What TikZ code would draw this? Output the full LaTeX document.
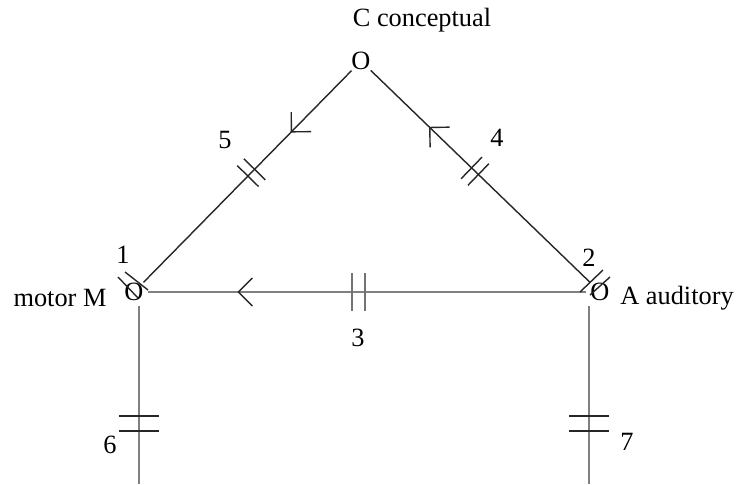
\documentclass[tikz,border=0pt]{standalone}
\usepackage{fontspec}
\setmainfont{Liberation Serif}
\usetikzlibrary{positioning,calc,decorations.markings}
\tikzset{
  vtx/.style={circle,inner sep=0pt,minimum size=15pt,font=\fontsize{15}{18}\selectfont},
  lbl/.style={inner sep=0pt,font=\fontsize{15}{18}\selectfont},
  dline/.style={line width=0.8pt,black!85},
  gline/.style={line width=1.5pt,black!50},
  ghatch/.style={line width=1pt,black!55},
  % ---- marks on the pathways ----
  hatch/.style n args={4}{postaction={decorate,decoration={markings,
      mark=at position #1 with {\draw[#4] (-#2,-#3)--(-#2,#3) (#2,-#3)--(#2,#3);}}}}, % double bar
  flow/.style 2 args={postaction={decorate,decoration={markings,
      mark=at position #1 with {\draw[#2] (-14,-14)--(0,0)--(-14,14);}}}},  % open arrow
}

\begin{document}
\begin{tikzpicture}[x=0.02cm,y=-0.02cm]
  \useasboundingbox (0,0) rectangle (737,484);
  % centres
  \node[vtx] (C) at (361,61) {O};
  \node[vtx] (M) at (134,292) {O};
  \node[vtx] (A) at (600,292) {O};
  \node[lbl] (Ctxt) at (422,20) {C conceptual};
  \node[lbl] (Mtxt) at (60,298) {motor M};
  \node[lbl] (Atxt) at (677,298) {A auditory};
  \coordinate (Mbot) at (139,484);
  \coordinate (Abot) at (589,484);
  % pathways
  \draw[dline,hatch={0.482}{4.75}{15}{dline},flow={0.289}{dline}] (C) -- (M);
  \draw[dline,hatch={0.525}{4.75}{15}{dline},flow={0.731}{dline}] (A) -- (C);
  \draw[gline,hatch={0.519}{6.5}{19}{ghatch},flow={0.793}{dline}] (A) -- (M);
  \draw[gline,hatch={0.662}{7.5}{20}{dline}] (M.south -| Mbot) -- (Mbot);
  \draw[gline,hatch={0.662}{7.5}{20}{dline}] (A.south -| Abot) -- (Abot);
  % bars at the centres
  \draw[dline] ($(M)+(-16,-15)$) -- ($(M)+(4,6)$) ($(M)+(-9,-20)$) -- ($(M)+(14,-2)$);
  \draw[dline] ($(A)+(-20,0)$) -- ($(A)+(3,-22)$) ($(A)+(-10,3)$) -- ($(A)+(10,-15)$);
  % numbers
  \node[lbl] (n1) at (123,255) {1};
  \node[lbl] (n2) at (589,258) {2};
  \node[lbl] (n3) at (358,338) {3};
  \node[lbl] (n4) at (497,138) {4};
  \node[lbl] (n5) at (225,140) {5};
  \node[lbl] (n6) at (110,445) {6};
  \node[lbl] (n7) at (627,442) {7};
\end{tikzpicture}
\end{document}
